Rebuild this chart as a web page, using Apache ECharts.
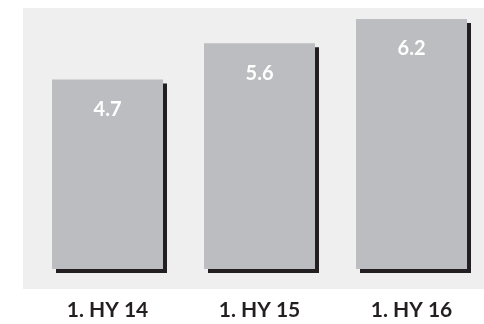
<!DOCTYPE html>
<html>
<head>
<meta charset="utf-8">
<script src="https://cdn.jsdelivr.net/npm/echarts@6/dist/echarts.min.js"></script>
<style>
  html, body { margin: 0; padding: 0; background: #fff; }
  #chart { width: 484px; height: 324px; }
</style>
</head>
<body>
<div id="chart"></div>
<script>
const categories = ['1. HY 14', '1. HY 15', '1. HY 16']
const values = [4.7, 5.6, 6.2]

const myChart = echarts.init(document.getElementById('chart'))
myChart.setOption({
  animation: false,
  textStyle: { fontFamily: 'Lato' },
  // grey panel behind the bars
  graphic: [{
    type: 'rect',
    z: -1,
    shape: { x: 23, y: 8, width: 461, height: 281 },
    style: { fill: '#efefef' }
  }],
  // bars sit on the ticks, so the grid runs from first to last bar centre
  grid: { left: 107.5, right: 72.5, top: 19, bottom: 55 },
  xAxis: {
    type: 'category',
    data: categories,
    boundaryGap: false,
    axisLine: { show: false },
    axisTick: { show: false },
    axisLabel: {
      margin: 31,
      fontSize: 21,
      fontWeight: 'bold',
      color: '#231f20',
      fontFamily: 'Lato'
    }
  },
  yAxis: {
    type: 'value',
    min: 0,
    max: 6.2,
    show: false
  },
  series: [{
    type: 'bar',
    data: values,
    barWidth: 111,
    itemStyle: {
      color: '#bcbdc1',
      shadowColor: '#231f20',
      shadowBlur: 0,
      shadowOffsetX: 4,
      shadowOffsetY: 4
    },
    label: {
      show: true,
      position: 'insideTop',
      distance: 20,
      fontSize: 20,
      fontWeight: 'bold',
      color: '#fff',
      fontFamily: 'Lato'
    }
  }]
})
</script>
</body>
</html>
